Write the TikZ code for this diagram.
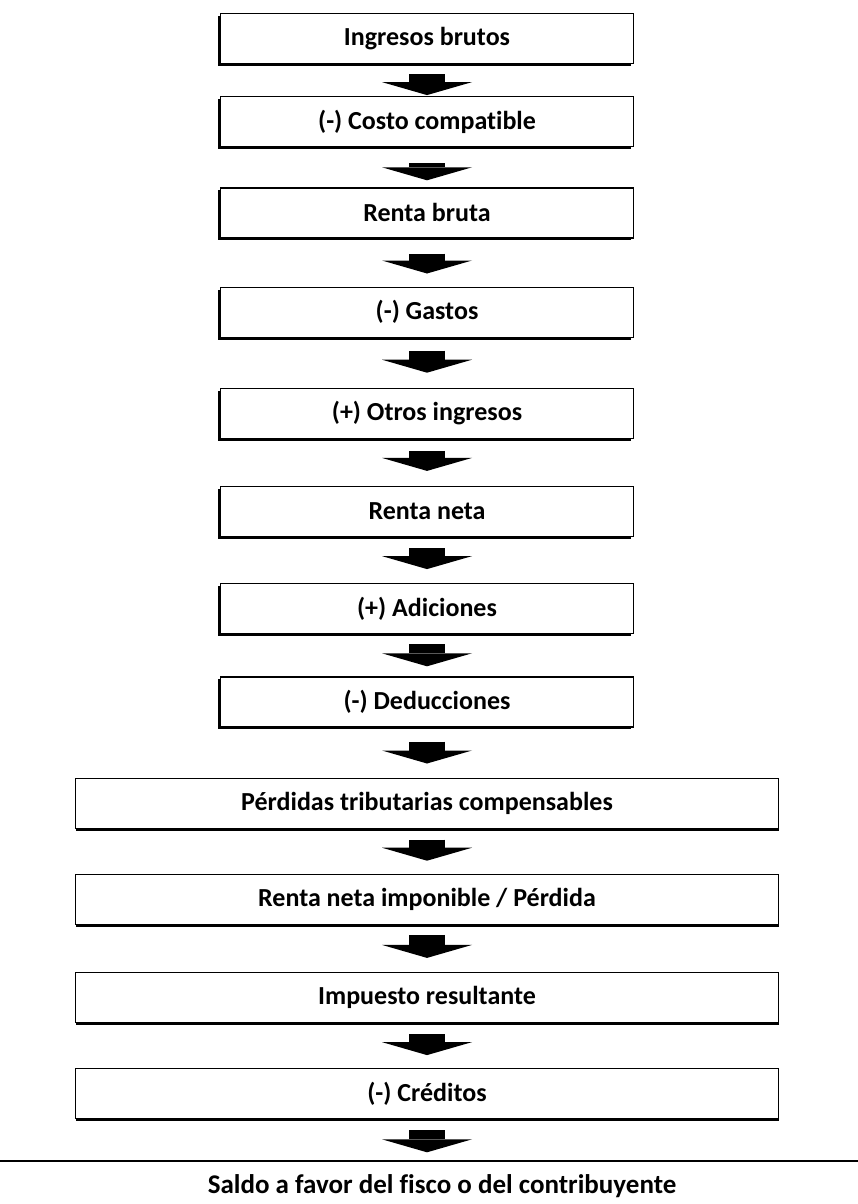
\documentclass[tikz,border=0pt]{standalone}
\usepackage{fontspec}
\setmainfont{Carlito}[Ligatures=NoCommon]
\usetikzlibrary{positioning,shadows,arrows.meta}

\begin{document}
\begin{tikzpicture}[%
        x=1pt,y=1pt,
        node distance=45pt,
        caja/.style={%
          rectangle,
          draw,
          line width=1.2pt,
          fill=white,
          minimum width=413pt,
          minimum height=50pt,
          inner sep=0pt,
          font=\fontsize{26}{30}\selectfont\bfseries
        },
        paso/.style={caja,
          drop shadow={shadow xshift=-2.5pt,shadow yshift=-2.5pt,fill=black,opacity=1}},
        pasoancho/.style={caja,minimum width=703pt,
          drop shadow={shadow xshift=0.5pt,shadow yshift=-2.5pt,fill=black,opacity=1}},
        flecha/.style 2 args={%
          line width=36pt,
          -{Triangle[width=90pt,length=13pt,line width=0pt]},
          shorten <=#1,
          shorten >=#2
        }
      ]
      \useasboundingbox (0,0) rectangle (858,-1204);
      \node[paso] (1) at (427,-38.5) {Ingresos brutos};
      \node[paso] (2) [below=32pt of 1] {(-) Costo compatible};
      \node[paso] (3) [below=40pt of 2] {Renta bruta};
      \node[paso] (4) [below=48pt of 3] {(-) Gastos};
      \node[paso] (5) [below=50pt of 4] {(+) Otros ingresos};
      \node[paso] (6) [below=47pt of 5] {Renta neta};
      \node[paso] (7) [below=46pt of 6] {(+) Adiciones};
      \node[paso] (8) [below=42pt of 7] {(-) Deducciones};
      \node[pasoancho] (9) [below=50pt of 8] {Pérdidas tributarias compensables};
      \node[pasoancho] (10) [below=45pt of 9] {Renta neta imponible / Pérdida};
      \node[pasoancho] (11) [below=47pt of 10] {Impuesto resultante};
      \node[pasoancho] (12) [below=45pt of 11] {(-) Créditos};
      \node[caja,minimum width=900pt,font=\fontsize{27}{30}\selectfont\bfseries] (13) [below=41pt of 12,xshift=15pt] {Saldo a favor del fisco o del contribuyente};
      \path (1) edge [flecha={10pt}{1pt}] (2)
      (2) edge [flecha={16pt}{7pt}] (3)
      (3) edge [flecha={15pt}{13pt}] (4)
      (4) edge [flecha={13pt}{15pt}] (5)
      (5) edge [flecha={12pt}{15pt}] (6)
      (6) edge [flecha={11pt}{14pt}] (7)
      (7) edge [flecha={10pt}{10pt}] (8)
      (8) edge [flecha={14pt}{14pt}] (9)
      (9) edge [flecha={11pt}{13pt}] (10)
      (10) edge [flecha={10pt}{14pt}] (11)
      (11) edge [flecha={11pt}{13pt}] (12)
      (12) edge [flecha={11pt}{8pt}] ([xshift=-15pt]13.north);
  \end{tikzpicture}
\end{document}
